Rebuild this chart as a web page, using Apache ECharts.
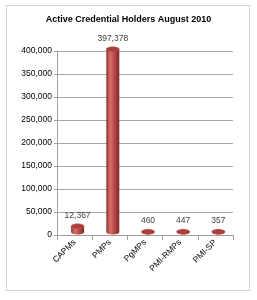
<!DOCTYPE html>
<html>
<head>
<meta charset="utf-8">
<script src="https://cdn.jsdelivr.net/npm/echarts@6/dist/echarts.min.js"></script>
<style>
  html, body { margin: 0; padding: 0; background: #fff; }
  #chart { width: 257px; height: 300px; }
</style>
</head>
<body>
<div id="chart"></div>
<script>
// 数据
var categories = ['CAPMs', 'PMPs', 'PgMPs', 'PMI-RMPs', 'PMI-SP'];
var holders = [12367, 397378, 460, 447, 357];
var yTicks = [0, 400000, 50000]; // min, max, interval

var chart = echarts.init(document.getElementById('chart'));

// 圆柱体：矩形身体 + 上下椭圆 + 数值标签
function renderCylinder(params, api) {
    var top = api.coord([api.value(0), api.value(1)]);
    var base = api.coord([api.value(0), 0]);
    var w = 13, ry = 2.5;
    var x = top[0] - w / 2 + 3;
    var yTop = top[1] - 3, yBase = base[1] - 3;
    var body = new echarts.graphic.LinearGradient(0, 0, 1, 0, [
        { offset: 0, color: '#8f302d' },
        { offset: 0.3, color: '#d8706c' },
        { offset: 0.55, color: '#c0504d' },
        { offset: 1, color: '#7e2826' }
    ]);
    return {
        type: 'group',
        children: [
            { type: 'ellipse', shape: { cx: x + w / 2, cy: yBase, rx: w / 2, ry: ry }, style: { fill: body } },
            { type: 'rect', shape: { x: x, y: yTop, width: w, height: Math.max(yBase - yTop, 0) }, style: { fill: body } },
            { type: 'ellipse', shape: { cx: x + w / 2, cy: yTop, rx: w / 2, ry: ry }, style: { fill: '#a8403d', stroke: '#c95e5a', lineWidth: 0.5 } },
            {
                type: 'text',
                x: x + w / 2, y: yTop - 11,
                style: {
                    text: api.value(1).toLocaleString('en-US'),
                    fontSize: 8.5, fontFamily: 'Liberation Sans', fill: '#404040',
                    align: 'center', verticalAlign: 'middle'
                }
            }
        ]
    };
}

var option = {
    animation: false,
    textStyle: { fontFamily: 'Liberation Sans' },
    title: {
        text: 'Active Credential Holders August 2010',
        left: 'center',
        top: 10,
        textStyle: { fontSize: 9, fontWeight: 'bold', color: '#000' }
    },
    graphic: [{
        type: 'rect',
        shape: { x: 6.5, y: 5.5, width: 243, height: 285 },
        style: { fill: 'none', stroke: '#d0d0d0', lineWidth: 1 }
    }],
    grid: { left: 57, right: 24, top: 51, bottom: 65 },
    xAxis: {
        type: 'category',
        data: categories,
        axisLine: { lineStyle: { color: '#a0a0a0' } },
        axisTick: { show: true, lineStyle: { color: '#a0a0a0' } },
        axisLabel: { rotate: 45, fontSize: 8.5, color: '#000', margin: 6, interval: 0 }
    },
    yAxis: {
        type: 'value',
        min: yTicks[0],
        max: yTicks[1],
        interval: yTicks[2],
        axisLine: { show: true, lineStyle: { color: '#a0a0a0' } },
        axisTick: { show: true, length: 3, lineStyle: { color: '#a0a0a0' } },
        splitLine: { lineStyle: { color: '#a6a6a6' } },
        axisLabel: {
            fontSize: 8.5, color: '#000', margin: 5,
            formatter: function (v) { return v.toLocaleString('en-US'); }
        }
    },
    series: [{
        type: 'custom',
        renderItem: renderCylinder,
        encode: { x: 0, y: 1 },
        data: holders.map(function (v, i) { return [i, v]; })
    }]
};

chart.setOption(option);
</script>
</body>
</html>
